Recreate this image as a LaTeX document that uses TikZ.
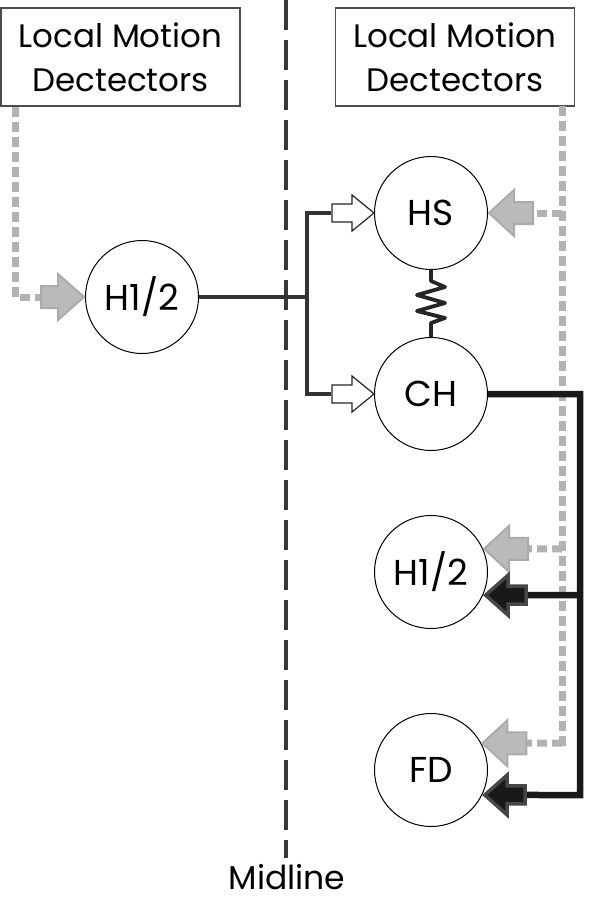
\documentclass[tikz,border=0pt]{standalone}
\usepackage{fontspec}
\setmainfont{Poppins}
\begin{document}
\begin{tikzpicture}[x=1pt,y=-1pt,
  box/.style={draw=black!70,line width=1.2pt,minimum width=239pt,minimum height=98pt,inner sep=0pt,align=center,font=\fontsize{32.5}{44}\selectfont},
  cell/.style={circle,draw=black,line width=1pt,minimum size=113pt,inner sep=0pt,font=\fontsize{36}{38}\selectfont},
  gdash/.style={draw=black!30,line width=7pt,dash pattern=on 10pt off 5pt},
  jline/.style={draw=black!80,line width=3.6pt},
  kline/.style={draw=black!90,line width=6.5pt},
  midst/.style={draw=black!78,line width=3.6pt,dash pattern=on 30pt off 10pt},
  garrowst/.style={fill=black!27,draw=black!33,line width=2pt,line join=miter},
  karrowst/.style={fill=black!90,draw=black!72,line width=3.5pt,line join=miter},
  warrowst/.style={fill=white,draw=black!85,line width=1.2pt,line join=miter},
  pics/garrow/.style={code={\path[garrowst] (1,0) -- (26,-23) -- (26,-11) -- (45,-11) -- (45,11) -- (26,11) -- (26,23) -- cycle;}},
  pics/karrow/.style={code={\path[karrowst] (2.5,0) -- (25,-20) -- (25,-9) -- (43,-9) -- (43,9) -- (25,9) -- (25,20) -- cycle;}},
  pics/warrow/.style={code={\path[warrowst] (0,0) -- (-22,-18) -- (-22,-9) -- (-42,-9) -- (-42,9) -- (-22,9) -- (-22,18) -- cycle;}},
  pics/rgarrow/.style={code={\path[garrowst] (-1,0) -- (-27,-23) -- (-27,-11) -- (-44,-11) -- (-44,11) -- (-27,11) -- (-27,23) -- cycle;}}
]
\useasboundingbox (0,0) rectangle (601,899);

% midline
\node[font=\fontsize{33}{36}\selectfont,anchor=base,inner sep=0pt] (mid) at (287,889) {Midline};
\coordinate (mtop) at (286,0);
\coordinate (mbot) at (286,858);
\draw[midst] (mtop) -- (mbot);

% boxes
\node[box] (lmdL) at (120.5,57) {Local Motion\\Dectectors};
\node[box] (lmdR) at (455,57) {Local Motion\\Dectectors};

% cells
\node[cell] (h1) at (142,297) {H1/2};
\node[cell] (hs) at (431,213) {HS};
\node[cell] (ch) at (431,394) {CH};
\node[cell] (h2) at (431,572) {H1/2};
\node[cell] (fd) at (431,770) {FD};

% spring between HS and CH
\draw[draw=black!85,line width=3.8pt,line join=round] (hs.south) -- (431,281) -- (445,287) -- (417,295) -- (445,303) -- (417,311) -- (445,318) -- (431,323) -- (ch.north);

% left input
\coordinate (lin) at (43,297);
\draw[gdash] ([xshift=15pt]lmdL.south west) |- (lin);
\pic at (h1.west) {rgarrow};

% junction from H1/2 to HS and CH
\coordinate (jn) at (307,297);
\coordinate (hsin) at (331,213);
\coordinate (chin) at (331,394);
\draw[jline] (h1.east) -- (jn);
\draw[jline] (hsin) -| (jn) |- (chin);
\pic at (hs.west) {warrow};
\pic at (ch.west) {warrow};

% right gray dashed input
\coordinate (gtop) at (562,106);
\coordinate (gbot) at (562,747);
\draw[gdash] (gtop) -- (gbot);
\coordinate (ghs) at (562,213);
\coordinate (gh2) at (562,549);
\coordinate (gfd) at (562,743);
\draw[gdash] (ghs) -- ([xshift=44pt]hs.east);
\draw[gdash] (gh2) -- ([xshift=44pt]h2.24);
\draw[gdash] (gfd) -- ([xshift=44pt]fd.28);
\pic at (hs.east) {garrow};
\pic at (h2.24) {garrow};
\pic at (fd.28) {garrow};

% black CH output
\coordinate (kc) at (580,394);
\coordinate (kh2) at (580,595);
\coordinate (kfd) at (580,795);
\draw[kline] (ch.east) -- (kc) -- (kfd) -- ([xshift=43pt]fd.-26);
\draw[kline] (kh2) -- ([xshift=43pt]h2.-24);
\pic at (h2.-24) {karrow};
\pic at (fd.-26) {karrow};
\end{tikzpicture}
\end{document}
